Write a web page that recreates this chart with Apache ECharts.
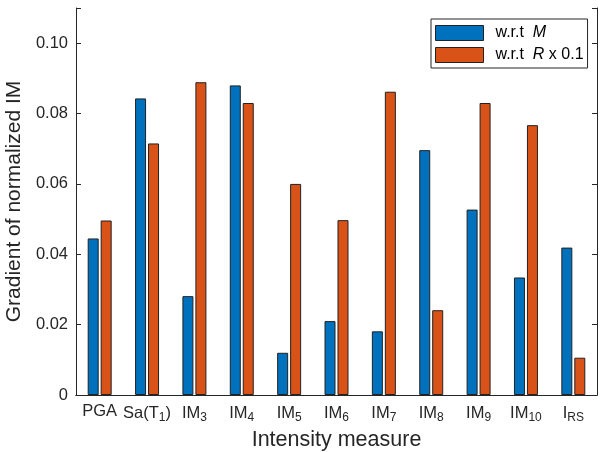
<!DOCTYPE html>
<html>
<head>
<meta charset="utf-8">
<script src="https://cdn.jsdelivr.net/npm/echarts@6/dist/echarts.min.js"></script>
<style>
  html, body { margin: 0; padding: 0; background: #fff; }
  #chart { width: 600px; height: 452px; }
</style>
</head>
<body>
<div id="chart"></div>
<script>
// categories, rich text markup for subscripts
var categories = ['PGA', 'Sa(T{s|1})', 'IM{s|3}', 'IM{s|4}', 'IM{s|5}', 'IM{s|6}', 'IM{s|7}', 'IM{s|8}', 'IM{s|9}', 'IM{s|10}', 'I{s|RS}'];
var gradM = [0.0445, 0.0843, 0.0281, 0.0880, 0.0120, 0.0210, 0.0181, 0.0696, 0.0527, 0.0334, 0.0419];
var gradR = [0.0496, 0.0715, 0.0889, 0.0830, 0.0600, 0.0497, 0.0862, 0.0241, 0.0830, 0.0767, 0.0106];
var yTicks = [0, 0.02, 0.04, 0.06, 0.08, 0.10];

var font = 'Liberation Sans, Arial, Helvetica, sans-serif';
var axisColor = '#262626';

var chart = echarts.init(document.getElementById('chart'));

var option = {
  animation: false,
  // keep the plot box fixed, labels may run to the edge
  grid: { left: 76, right: 3, top: 8, bottom: 57, outerBoundsMode: 'none', containLabel: false },
  legend: {
    orient: 'vertical',
    left: 431,
    top: 19,
    padding: [6, 4, 5, 4],
    itemGap: 6,
    itemWidth: 48,
    itemHeight: 15,
    borderColor: axisColor,
    borderWidth: 1,
    backgroundColor: '#fff',
    icon: 'rect',
    itemStyle: { borderColor: '#222', borderWidth: 1 },
    formatter: function (name) {
      return name === 'M' ? '{g|}w.r.t  {i|M}' : '{g|}w.r.t  {i|R} x 0.1';
    },
    textStyle: {
      fontFamily: font, fontSize: 16, color: '#000',
      rich: {
        g: { width: 7 },
        i: { fontFamily: font, fontSize: 16, fontStyle: 'italic', color: '#000' }
      }
    },
    data: ['M', 'R']
  },
  xAxis: [{
    type: 'category',
    data: categories,
    name: 'Intensity measure',
    nameLocation: 'middle',
    nameGap: 33,
    nameTextStyle: { fontFamily: font, fontSize: 21.5, color: '#262626' },
    axisLine: { lineStyle: { color: axisColor } },
    axisTick: { inside: true, alignWithLabel: true, length: 5, lineStyle: { color: axisColor } },
    axisLabel: {
      interval: 0,
      margin: 8,
      fontFamily: font, fontSize: 16.5, color: '#262626',
      rich: {
        s: { fontFamily: font, fontSize: 12, color: '#262626', padding: [9, 0, 0, 0] }
      }
    }
  }, {
    type: 'category',
    data: categories,
    position: 'top',
    axisLine: { lineStyle: { color: axisColor } },
    axisTick: { inside: true, alignWithLabel: true, length: 5, lineStyle: { color: axisColor } },
    axisLabel: { show: false }
  }],
  yAxis: [{
    type: 'value',
    min: 0,
    max: 0.11,
    interval: 0.02,
    name: 'Gradient of normalized IM',
    nameLocation: 'middle',
    nameGap: 48,
    nameTextStyle: { fontFamily: font, fontSize: 21, color: '#262626' },
    axisLine: { show: true, lineStyle: { color: axisColor } },
    axisTick: { show: true, inside: true, length: 5, lineStyle: { color: axisColor } },
    splitLine: { show: false },
    axisLabel: {
      margin: 8,
      fontFamily: font, fontSize: 16.5, color: '#262626',
      formatter: function (v) {
        if (v === 0) return '0';
        if (yTicks.indexOf(Math.round(v * 100) / 100) < 0 || v > 0.105) return '';
        return v.toFixed(2);
      }
    }
  }, {
    type: 'value',
    min: 0,
    max: 0.11,
    interval: 0.02,
    position: 'right',
    axisLine: { show: true, lineStyle: { color: axisColor } },
    axisTick: { show: true, inside: true, length: 5, lineStyle: { color: axisColor } },
    splitLine: { show: false },
    axisLabel: { show: false }
  }],
  series: [{
    name: 'M',
    type: 'bar',
    data: gradM,
    barWidth: 11,
    barGap: '18%',
    itemStyle: { color: '#0072BD', borderColor: '#222', borderWidth: 1 }
  }, {
    name: 'R',
    type: 'bar',
    data: gradR,
    barWidth: 11,
    barGap: '18%',
    itemStyle: { color: '#D95319', borderColor: '#222', borderWidth: 1 }
  }]
};

chart.setOption(option);
</script>
</body>
</html>
